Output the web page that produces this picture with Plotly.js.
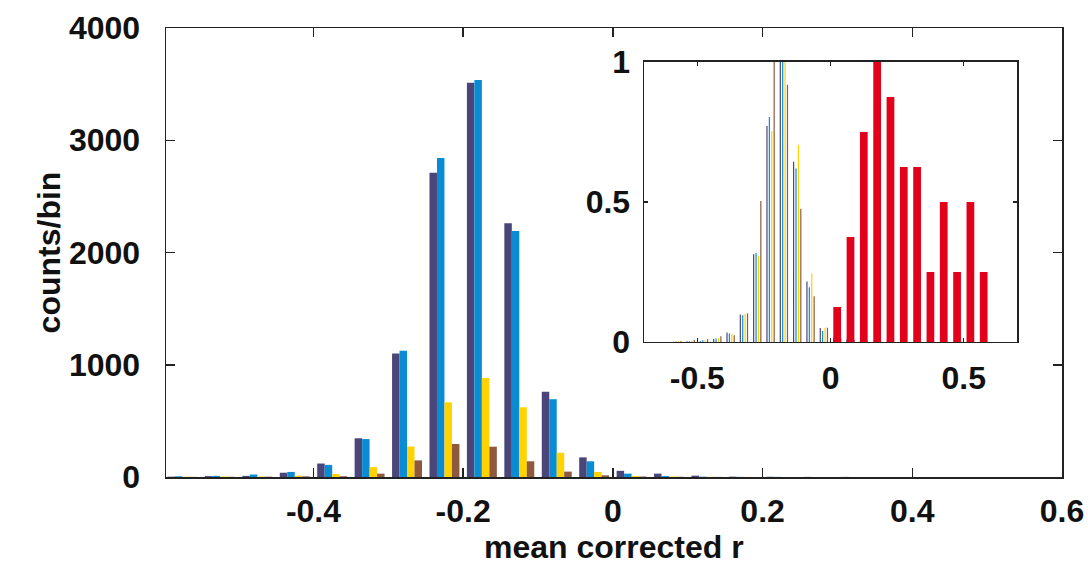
<!DOCTYPE html>
<html>
<head>
<meta charset="utf-8">
<script src="https://cdn.plot.ly/plotly-3.0.1.min.js"></script>
<style>
html,body{margin:0;padding:0;background:#ffffff;}
#chart{width:1088px;height:578px;}
</style>
</head>
<body>
<div id="chart"></div>
<script>
// ---- data ----
const binCenters = [-0.575,-0.525,-0.475,-0.425,-0.375,-0.325,-0.275,-0.225,-0.175,-0.125,-0.075,-0.025,
                    0.025,0.075,0.125,0.175,0.225,0.275,0.325,0.375,0.425,0.475,0.525,0.575];
const countsPurple = [3,8,10,38,120,345,1100,2711,3513,2260,760,175,55,30,12,3,2,1,1,0,0,0,0,0];
const countsBlue   = [6,10,22,45,108,338,1125,2842,3537,2191,693,140,30,8,3,1,1,0,0,0,0,0,0,0];
const countsYellow = [3,4,5,12,26,88,272,665,882,621,216,45,8,4,2,1,0,0,0,0,0,0,0,0];
const countsBrown  = [1,2,3,6,7,30,148,294,270,140,48,15,4,2,1,0,0,0,0,0,0,0,0,0];
const redCenters   = [0.025,0.075,0.125,0.175,0.225,0.275,0.325,0.375,0.425,0.475,0.525,0.575];
const redCounts    = [1,3,6,8,7,5,5,2,4,2,4,2];

const mainTickVals = [-0.4,-0.2,0,0.2,0.4,0.6];
const mainTickText = ['-0.4','-0.2','0','0.2','0.4','0.6'];
const yTickVals = [0,1000,2000,3000,4000];
const yTickText = ['0','1000','2000','3000','4000'];
const insetXTickVals = [-0.5,0,0.5];
const insetXTickText = ['-0.5','0','0.5'];
const insetYTickVals = [0,0.5,1];
const insetYTickText = ['0','0.5','1'];
const xTitle = 'mean corrected r';
const yTitle = 'counts/bin';

// ---- styling ----
const colors = ['#4a4679','#0a8cd4','#ffd200','#8e5a3e'];
const red = '#e2001a';
const series = [countsPurple,countsBlue,countsYellow,countsBrown];
const names = ['series 1','series 2','series 3','series 4'];
const FONT = 'Liberation Sans, Arial, Helvetica, sans-serif';
const norm = arr => { const m = Math.max(...arr); return arr.map(v => v / m); };

const traces = [];
series.forEach((s, i) => {
  traces.push({type:'bar', x:binCenters, y:s, name:names[i], xaxis:'x', yaxis:'y',
    marker:{color:colors[i], line:{width:0}}, showlegend:false, hoverinfo:'x+y'});
});
// inset: normalized thin bars
const thinW = 0.0045;
const thinShift = [-0.0135,-0.0045,0.0045,0.0135];
series.forEach((s, i) => {
  traces.push({type:'bar', x:binCenters, y:norm(s), xaxis:'x2', yaxis:'y2',
    width:thinW, offset:thinShift[i]-thinW/2,
    marker:{color:colors[i], line:{width:0}}, showlegend:false, hoverinfo:'x+y'});
});
const redW = 0.029;
traces.push({type:'bar', x:redCenters, y:norm(redCounts), xaxis:'x2', yaxis:'y2',
  width:redW, offset:-redW/2, marker:{color:red, line:{width:0}}, showlegend:false, hoverinfo:'x+y'});

const axisCommon = {
  showline:true, linecolor:'#222', linewidth:1.5, mirror:'ticks',
  ticks:'inside', tickcolor:'#222', tickwidth:1.5,
  showgrid:false, zeroline:false,
  tickfont:{family:FONT, size:32, color:'#111', weight:'bold'},
  tickmode:'array', fixedrange:true, automargin:false
};
const titleFont = {family:FONT, size:32, color:'#111', weight:'bold'};

const layout = {
  width:1088, height:578,
  margin:{l:166, r:26, t:28, b:101},
  paper_bgcolor:'#ffffff', plot_bgcolor:'#ffffff',
  barmode:'group', bargap:0.2, bargroupgap:0,
  showlegend:false,
  xaxis:Object.assign({}, axisCommon, {
    range:[-0.597,0.6], tickvals:mainTickVals, ticktext:mainTickText, ticklen:9,
    ticklabelstandoff:5
  }),
  yaxis:Object.assign({}, axisCommon, {
    range:[0,4000], tickvals:yTickVals, ticktext:yTickText, ticklen:9,
    ticklabelstandoff:18,
    title:{text:yTitle, font:titleFont}
  }),
  xaxis2:Object.assign({}, axisCommon, {
    domain:[0.5335,0.9498], anchor:'y2', range:[-0.7,0.7],
    tickvals:insetXTickVals, ticktext:insetXTickText, ticklen:4, ticklabelstandoff:7
  }),
  yaxis2:Object.assign({}, axisCommon, {
    domain:[0.3007,0.9243], anchor:'x2', range:[0,1],
    tickvals:insetYTickVals, ticktext:insetYTickText, ticklen:4, ticklabelstandoff:6
  }),
  annotations:[{
    text:xTitle, xref:'paper', yref:'paper', x:0.5, y:-0.156,
    xanchor:'center', yanchor:'middle', showarrow:false, font:titleFont
  }]
};

Plotly.newPlot('chart', traces, layout, {displayModeBar:false, staticPlot:true});
</script>
</body>
</html>
